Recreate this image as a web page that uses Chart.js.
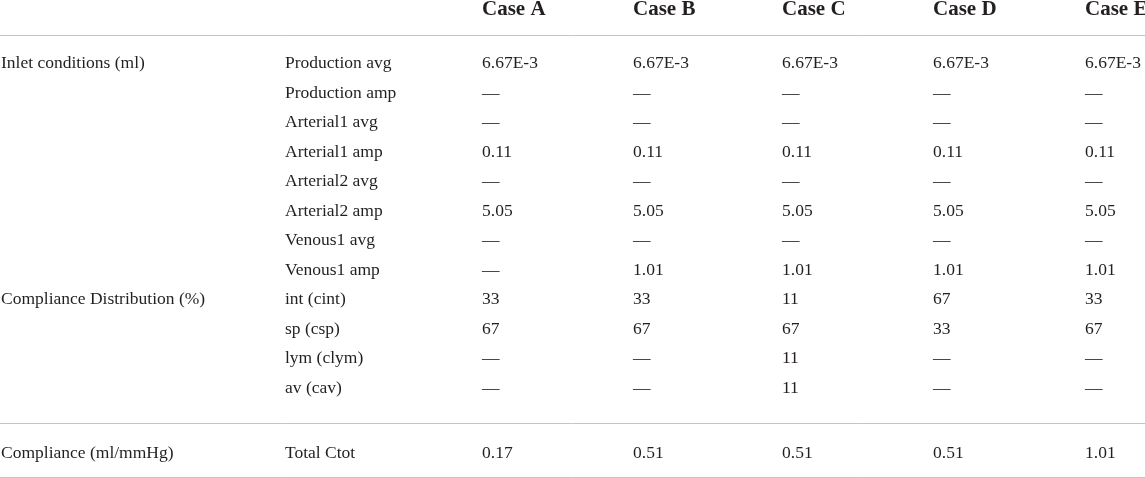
<!DOCTYPE html>
<html>
<head>
<meta charset="utf-8">
<script src="https://cdn.jsdelivr.net/npm/chart.js@4/dist/chart.umd.min.js"></script>
<style>
  html, body { margin: 0; padding: 0; background: #fff; }
  #wrap { width: 1145px; height: 478px; position: relative; }
</style>
</head>
<body>
<div id="wrap"><canvas id="table"></canvas></div>
<script>
// Contenido de la tabla (una lista por columna)
const headers = ['', '', 'Case A', 'Case B', 'Case C', 'Case D', 'Case E'];
const groupLabels = ['Inlet conditions (ml)', '', '', '', '', '', '', '', 'Compliance Distribution (%)', '', '', '', 'Compliance (ml/mmHg)'];
const params = ['Production avg', 'Production amp', 'Arterial1 avg', 'Arterial1 amp', 'Arterial2 avg', 'Arterial2 amp',
  'Venous1 avg', 'Venous1 amp', 'int (cint)', 'sp (csp)', 'lym (clym)', 'av (cav)', 'Total Ctot'];
const caseA = ['6.67E-3', '—', '—', '0.11', '—', '5.05', '—', '—', '33', '67', '—', '—', '0.17'];
const caseB = ['6.67E-3', '—', '—', '0.11', '—', '5.05', '—', '1.01', '33', '67', '—', '—', '0.51'];
const caseC = ['6.67E-3', '—', '—', '0.11', '—', '5.05', '—', '1.01', '11', '67', '11', '11', '0.51'];
const caseD = ['6.67E-3', '—', '—', '0.11', '—', '5.05', '—', '1.01', '67', '33', '—', '—', '0.51'];
const caseE = ['6.67E-3', '—', '—', '0.11', '—', '5.05', '—', '1.01', '33', '67', '—', '—', '1.01'];

const columns = [groupLabels, params, caseA, caseB, caseC, caseD, caseE];

// Disposición: inicio de cada columna y posición de filas (en unidades de fila)
const colX = [1, 285, 482, 633, 782, 933, 1085];
const rowY = [0, 1, 2, 3, 4, 5, 6, 7, 8, 9, 10, 11, 13.2];
const headerY = -1.81;
const rules = [-1.13, 12.02, 13.85];

const textColor = '#231f20';
const bodyFont = '17.5px "Liberation Serif", "DejaVu Serif", serif';
const headFont = 'bold 21px "Liberation Serif", "DejaVu Serif", serif';

// Un dataset por columna: cada celda es un punto invisible con su texto
let datasets = columns.map((col, c) => ({
  label: 'col' + c,
  font: bodyFont,
  pointRadius: 0,
  data: col.map((txt, r) => ({x: colX[c], y: rowY[r], text: txt}))
}));
datasets.push({
  label: 'header',
  font: headFont,
  pointRadius: 0,
  data: headers.map((txt, c) => ({x: colX[c], y: headerY, text: txt}))
});

const tablePlugin = {
  id: 'tableText',
  afterDraw(chart) {
    const ctx = chart.ctx;
    const yScale = chart.scales.y;
    ctx.save();
    // líneas horizontales
    ctx.strokeStyle = '#c4c4c4';
    ctx.lineWidth = 1;
    for (let v of rules) {
      let py = Math.round(yScale.getPixelForValue(v)) + 0.5;
      ctx.beginPath();
      ctx.moveTo(0, py);
      ctx.lineTo(chart.width, py);
      ctx.stroke();
    }
    // textos de las celdas
    ctx.fillStyle = textColor;
    ctx.textAlign = 'left';
    ctx.textBaseline = 'alphabetic';
    chart.data.datasets.forEach((ds, i) => {
      const meta = chart.getDatasetMeta(i);
      ctx.font = ds.font;
      meta.data.forEach((pt, j) => {
        const txt = ds.data[j].text;
        if (txt) ctx.fillText(txt, pt.x, pt.y);
      });
    });
    ctx.restore();
  }
};

new Chart(document.getElementById('table'), {
  type: 'scatter',
  data: {datasets: datasets},
  options: {
    responsive: true,
    maintainAspectRatio: false,
    animation: false,
    layout: {padding: 0},
    plugins: {legend: {display: false}, tooltip: {enabled: false}},
    scales: {
      x: {type: 'linear', display: false, min: 0, max: 1145},
      y: {type: 'linear', display: false, reverse: true, min: -2.315, max: 13.888}
    }
  },
  plugins: [tablePlugin]
});
</script>
</body>
</html>
